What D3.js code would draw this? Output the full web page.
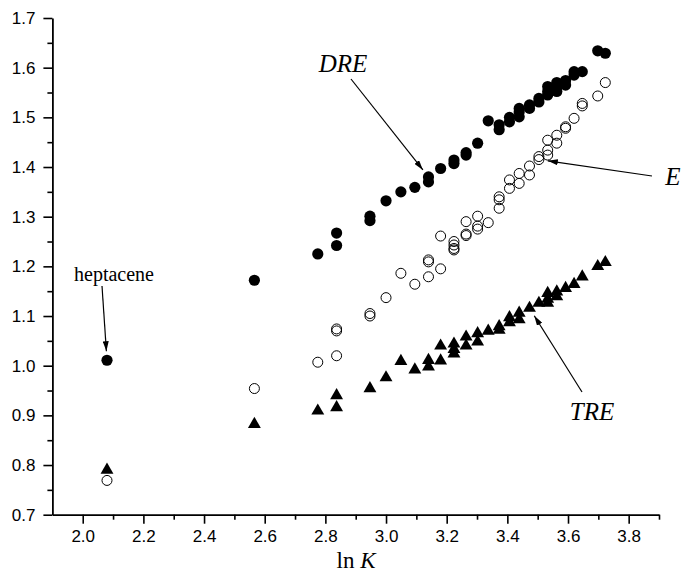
<!DOCTYPE html>
<html>
<head>
<meta charset="utf-8">
<script src="https://cdn.jsdelivr.net/npm/d3@7"></script>
<style>
  body { margin: 0; background: #fff; }
  svg { display: block; }
  .tick text { font-family: "Liberation Sans", Arial, sans-serif; font-size: 17px; fill: #000; }
  .lbl { font-family: "Liberation Serif", "Times New Roman", serif; fill: #000; }
</style>
</head>
<body>
<svg id="chart" width="681" height="573"></svg>
<script>
/** ln K values and energies, one [lnK, value] pair per point */
var dreData = [
    [2.080, 1.011], [2.566, 1.172], [2.775, 1.225],
    [2.837, 1.267], [2.837, 1.242], [2.947, 1.301], [2.947, 1.292],
    [3.000, 1.332], [3.049, 1.350], [3.095, 1.359],
    [3.140, 1.380], [3.140, 1.370], [3.180, 1.397],
    [3.224, 1.414], [3.224, 1.407], [3.264, 1.429], [3.264, 1.424],
    [3.302, 1.448], [3.337, 1.493], [3.373, 1.485], [3.373, 1.475],
    [3.407, 1.500], [3.407, 1.491],
    [3.439, 1.518], [3.439, 1.511], [3.439, 1.501],
    [3.473, 1.525], [3.473, 1.518], [3.504, 1.538], [3.504, 1.531],
    [3.533, 1.562], [3.533, 1.552], [3.533, 1.545],
    [3.563, 1.570], [3.563, 1.562], [3.563, 1.552],
    [3.592, 1.574], [3.592, 1.565], [3.620, 1.592], [3.620, 1.585],
    [3.647, 1.592], [3.698, 1.634], [3.723, 1.629]
];

var eData = [
    [2.080, 0.769], [2.566, 0.954], [2.775, 1.007],
    [2.837, 1.074], [2.837, 1.070], [2.837, 1.020],
    [2.947, 1.105], [2.947, 1.100], [3.000, 1.137],
    [3.049, 1.186], [3.095, 1.164],
    [3.140, 1.213], [3.140, 1.209], [3.140, 1.179],
    [3.180, 1.261], [3.180, 1.195],
    [3.224, 1.250], [3.224, 1.243], [3.224, 1.236], [3.224, 1.233],
    [3.264, 1.290], [3.264, 1.265], [3.264, 1.262],
    [3.302, 1.301], [3.302, 1.281], [3.302, 1.275],
    [3.337, 1.288], [3.373, 1.340], [3.373, 1.334], [3.373, 1.317],
    [3.407, 1.374], [3.407, 1.357], [3.439, 1.387], [3.439, 1.367],
    [3.473, 1.402], [3.473, 1.384], [3.504, 1.421], [3.504, 1.415],
    [3.533, 1.454], [3.533, 1.434], [3.533, 1.424],
    [3.563, 1.464], [3.563, 1.448], [3.592, 1.481], [3.592, 1.478],
    [3.620, 1.498], [3.647, 1.528], [3.647, 1.523],
    [3.698, 1.543], [3.723, 1.570]
];

var treData = [
    [2.080, 0.790], [2.566, 0.882], [2.775, 0.909],
    [2.837, 0.940], [2.837, 0.916], [2.947, 0.954],
    [3.000, 0.976], [3.049, 1.009], [3.095, 0.992],
    [3.140, 1.011], [3.140, 0.998], [3.180, 1.040], [3.180, 1.010],
    [3.224, 1.044], [3.224, 1.033], [3.224, 1.024],
    [3.264, 1.058], [3.264, 1.040], [3.302, 1.065], [3.302, 1.048],
    [3.337, 1.070], [3.373, 1.079], [3.373, 1.072],
    [3.407, 1.097], [3.407, 1.087], [3.439, 1.106], [3.439, 1.093],
    [3.473, 1.116], [3.504, 1.126],
    [3.533, 1.146], [3.533, 1.134], [3.533, 1.126],
    [3.563, 1.149], [3.563, 1.139], [3.592, 1.156],
    [3.620, 1.164], [3.647, 1.179], [3.698, 1.200], [3.723, 1.208]
];

/** axis ticks */
var xMajor = [2.0, 2.2, 2.4, 2.6, 2.8, 3.0, 3.2, 3.4, 3.6, 3.8];
var xMinor = [2.1, 2.3, 2.5, 2.7, 2.9, 3.1, 3.3, 3.5, 3.7, 3.9];
var yMajor = [0.7, 0.8, 0.9, 1.0, 1.1, 1.2, 1.3, 1.4, 1.5, 1.6, 1.7];
var yMinor = [0.75, 0.85, 0.95, 1.05, 1.15, 1.25, 1.35, 1.45, 1.55, 1.65];

/** annotations: label text and where the arrow points (data coords) */
var notes = [
    {text: 'DRE', italic: true, size: 25, lx: 343, ly: 72, from: [351, 79], to: [3.140, 1.380]},
    {text: 'E', italic: true, size: 25, lx: 673, ly: 185, from: [652, 176], to: [3.504, 1.415]},
    {text: 'TRE', italic: true, size: 25, lx: 592, ly: 420, from: [582, 392], to: [3.473, 1.116]},
    {text: 'heptacene', italic: false, size: 20, lx: 114, ly: 281, from: [102, 286], to: [2.080, 1.011]}
];

var svg = d3.select('#chart');

var x = d3.scaleLinear().domain([1.9, 3.9]).range([52.4, 659]);
var y = d3.scaleLinear().domain([0.7, 1.7]).range([514.7, 18]);

// axes, ticks pointing outward
var xAxis = svg.append('g').attr('transform', 'translate(0,514.7)');
xAxis.append('g')
    .call(d3.axisBottom(x).tickValues(xMinor).tickSize(5).tickFormat(''))
    .call(function (g) { g.select('.domain').remove(); });
xAxis.append('g')
    .call(d3.axisBottom(x).tickValues(xMajor).tickSize(9).tickSizeOuter(0).tickPadding(6).tickFormat(d3.format('.1f')));

var yAxis = svg.append('g').attr('transform', 'translate(52.4,0)');
yAxis.append('g')
    .call(d3.axisLeft(y).tickValues(yMinor).tickSize(5).tickFormat(''))
    .call(function (g) { g.select('.domain').remove(); });
yAxis.append('g')
    .call(d3.axisLeft(y).tickValues(yMajor).tickSize(9).tickSizeOuter(0).tickPadding(8).tickFormat(d3.format('.1f')));

svg.selectAll('.domain, .tick line').attr('stroke', '#000').attr('stroke-width', 1.6);
svg.selectAll('.domain').attr('stroke-width', 1.8);

// x title
var title = svg.append('text').attr('class', 'lbl')
    .attr('x', 356).attr('y', 568)
    .attr('text-anchor', 'middle')
    .style('font-size', '23px');
title.append('tspan').text('ln ');
title.append('tspan').style('font-style', 'italic').text('K');

// markers
svg.append('g').selectAll('circle').data(eData)
    .enter().append('circle')
    .attr('cx', function (d) { return x(d[0]); })
    .attr('cy', function (d) { return y(d[1]); })
    .attr('r', 5)
    .attr('fill', 'none')
    .attr('stroke', '#000')
    .attr('stroke-width', 1);

svg.append('g').selectAll('circle').data(dreData)
    .enter().append('circle')
    .attr('cx', function (d) { return x(d[0]); })
    .attr('cy', function (d) { return y(d[1]); })
    .attr('r', 5.6)
    .attr('fill', '#000');

var tri = d3.symbol().type(d3.symbolTriangle).size(72);
svg.append('g').selectAll('path').data(treData)
    .enter().append('path')
    .attr('d', tri)
    .attr('transform', function (d) { return 'translate(' + x(d[0]) + ',' + y(d[1]) + ')'; })
    .attr('fill', '#000');

// arrows
var defs = svg.append('defs');
defs.append('marker')
    .attr('id', 'head')
    .attr('viewBox', '0 0 10 6')
    .attr('refX', 10).attr('refY', 3)
    .attr('markerWidth', 10).attr('markerHeight', 6)
    .attr('markerUnits', 'userSpaceOnUse')
    .attr('orient', 'auto')
    .append('path').attr('d', 'M0,0 L10,3 L0,6 Z').attr('fill', '#000');

notes.forEach(function (n) {
    // stop the arrow a little short of the marker centre
    var tx = x(n.to[0]), ty = y(n.to[1]);
    var dx = tx - n.from[0], dy = ty - n.from[1];
    var len = Math.sqrt(dx * dx + dy * dy);
    var k = (len - 9) / len;
    svg.append('line')
        .attr('x1', n.from[0]).attr('y1', n.from[1])
        .attr('x2', n.from[0] + dx * k).attr('y2', n.from[1] + dy * k)
        .attr('stroke', '#000').attr('stroke-width', 1.2)
        .attr('marker-end', 'url(#head)');

    svg.append('text').attr('class', 'lbl')
        .attr('x', n.lx).attr('y', n.ly)
        .attr('text-anchor', 'middle')
        .style('font-size', n.size + 'px')
        .style('font-style', n.italic ? 'italic' : 'normal')
        .text(n.text);
});
</script>
</body>
</html>
